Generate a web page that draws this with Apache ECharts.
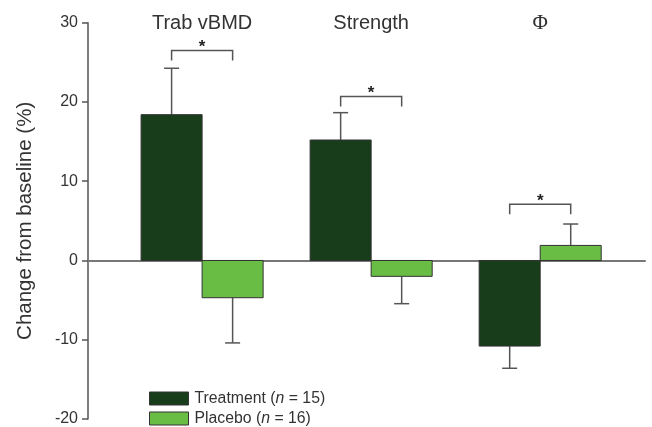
<!DOCTYPE html>
<html><head><meta charset="utf-8">
<script src="https://cdn.jsdelivr.net/npm/echarts@6/dist/echarts.min.js"></script>
<style>html,body{margin:0;padding:0;background:#fff}#c{width:652px;height:427px}</style>
</head><body><div id="c"></div>
<script>
// ---- data ----
const categories = ['Trab vBMD', 'Strength', 'Φ'];
const treatment = [18.4, 15.2, -10.8];
const treatmentErr = [5.85, 3.45, 2.8];
const placebo = [-4.7, -2.0, 1.9];
const placeboErr = [5.7, 3.45, 2.7];
const bracketY = [26.5, 20.7, 7.1];
const sigMarks = ['*', '*', '*'];
const seriesNames = ['Treatment', 'Placebo'];
const nCounts = [15, 16];
const yMin = -20, yMax = 30, yStep = 10;

// ---- style ----
const FONT = "'Liberation Sans', Arial, Helvetica, sans-serif";
const SERIF = "'Liberation Serif', 'DejaVu Serif', serif";
const DARK = '#183d1b', LIGHT = '#69bd45';
const BAR_FRAC = 0.361;
const AX = '#555';

function barItem(side, color) {
  return function (params, api) {
    const i = api.value(0), v = api.value(1), e = api.value(2);
    const x0 = side < 0 ? i - BAR_FRAC : i;
    const x1 = side < 0 ? i : i + BAR_FRAC;
    const p0 = api.coord([x0, 0]);
    const p1 = api.coord([x1, v]);
    const cx = (p0[0] + p1[0]) / 2;
    const dir = v >= 0 ? 1 : -1;
    const pe = api.coord([(x0 + x1) / 2, v + dir * e]);
    return {
      type: 'group', children: [
        { type: 'line', shape: { x1: cx, y1: p1[1], x2: cx, y2: pe[1] }, style: { stroke: AX, lineWidth: 1.5 } },
        { type: 'line', shape: { x1: cx - 7.5, y1: pe[1], x2: cx + 7.5, y2: pe[1] }, style: { stroke: AX, lineWidth: 1.5 } },
        { type: 'rect', shape: { x: Math.min(p0[0], p1[0]), y: Math.min(p0[1], p1[1]), width: Math.abs(p1[0] - p0[0]), height: Math.abs(p1[1] - p0[1]) },
          style: { fill: color, stroke: '#333', lineWidth: 1 } }
      ]
    };
  };
}

function legendFor(k, top) {
  return {
    left: 144, top: top, icon: 'rect',
    itemWidth: 39, itemHeight: 13,
    data: [seriesNames[k]],
    itemStyle: { borderColor: '#333', borderWidth: 1 },
    formatter: function (name) {
      return '{s|}{t|' + name + ' (}{i|n}{t| = ' + nCounts[k] + ')}';
    },
    textStyle: {
      fontFamily: FONT, color: '#333',
      rich: {
        s: { width: 1 },
        t: { fontSize: 15.8, fontFamily: FONT, color: '#333' },
        i: { fontSize: 15.8, fontFamily: FONT, color: '#333', fontStyle: 'italic' }
      }
    }
  };
}

const chart = echarts.init(document.getElementById('c'), null, { renderer: 'canvas' });
chart.setOption({
  animation: false,
  backgroundColor: '#fff',
  grid: { left: 88, right: 7, top: 22.7, bottom: 4.7, containLabel: false },
  xAxis: {
    type: 'value', min: -0.675, max: 2.62,
    axisLine: { show: true, onZero: true, lineStyle: { color: '#777', width: 2 } },
    axisTick: { show: false }, axisLabel: { show: false }, splitLine: { show: false }
  },
  yAxis: {
    type: 'value', min: yMin, max: yMax, interval: yStep,
    axisLine: { show: true, onZero: false, lineStyle: { color: AX, width: 1.5 } },
    axisTick: { show: true, length: 6, lineStyle: { color: AX, width: 1.5 } },
    axisLabel: { fontSize: 16, color: '#333', margin: 10, fontFamily: FONT },
    splitLine: { show: false },
    name: 'Change from baseline (%)', nameLocation: 'middle', nameGap: 52,
    nameTextStyle: { fontSize: 20.5, color: '#333', fontFamily: FONT }
  },
  legend: [legendFor(0, 385.5), legendFor(1, 405.5)],
  series: [
    {
      name: seriesNames[0], type: 'custom', itemStyle: { color: DARK },
      renderItem: barItem(-1, DARK),
      data: treatment.map((v, i) => [i, v, treatmentErr[i]])
    },
    {
      name: seriesNames[1], type: 'custom', itemStyle: { color: LIGHT },
      renderItem: barItem(1, LIGHT),
      data: placebo.map((v, i) => [i, v, placeboErr[i]])
    },
    {
      name: 'brackets', type: 'custom', silent: true,
      renderItem: function (params, api) {
        const i = api.value(0), y = api.value(1);
        const pl = api.coord([i - BAR_FRAC / 2, y]);
        const pr = api.coord([i + BAR_FRAC / 2, y]);
        const leg = 10;
        return {
          type: 'group', children: [
            { type: 'polyline', shape: { points: [[pl[0], pl[1] + leg], [pl[0], pl[1]], [pr[0], pr[1]], [pr[0], pr[1] + leg]] },
              style: { stroke: AX, lineWidth: 1.5, fill: null } },
            { type: 'text', x: (pl[0] + pr[0]) / 2, y: pl[1] - 3,
              style: { text: sigMarks[params.dataIndex], fontSize: 17, fontWeight: 'bold', fontFamily: FONT, fill: '#222', align: 'center', verticalAlign: 'middle' } }
          ]
        };
      },
      data: bracketY.map((y, i) => [i, y])
    },
    {
      name: 'titles', type: 'custom', silent: true,
      renderItem: function (params, api) {
        const p = api.coord([api.value(0), yMax]);
        const txt = categories[params.dataIndex];
        const isSymbol = txt.length === 1;
        return { type: 'text', x: p[0], y: p[1] + 1,
          style: { text: txt, fontSize: isSymbol ? 21 : 20, fontFamily: isSymbol ? SERIF : FONT, fill: '#333', align: 'center', verticalAlign: 'middle' } };
      },
      data: categories.map((c, i) => [i, yMax])
    }
  ]
});
</script>
</body></html>
